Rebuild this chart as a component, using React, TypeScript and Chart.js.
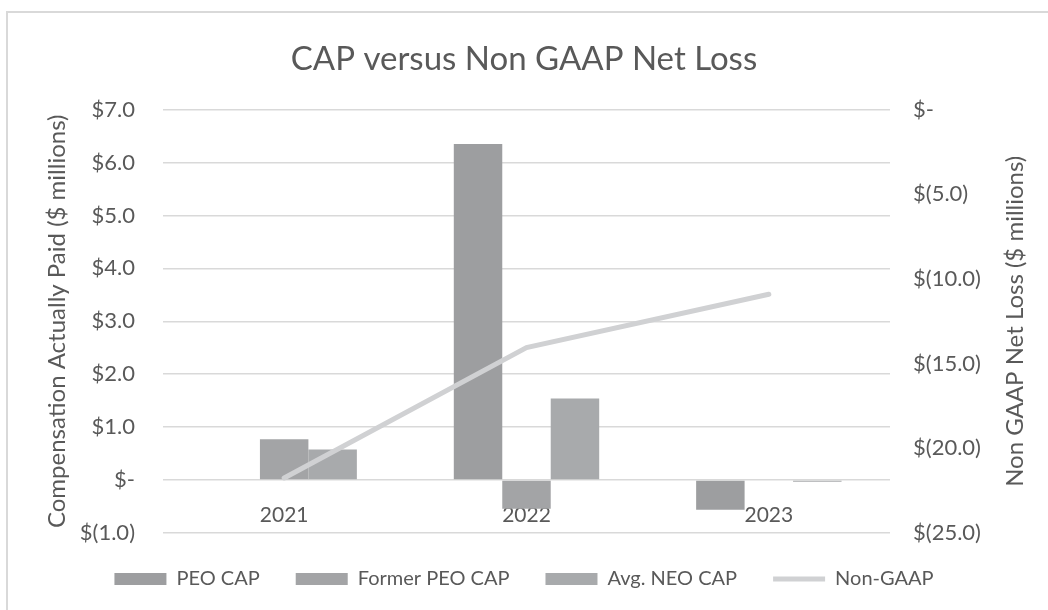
import React, { useEffect, useRef } from "react";
import { Chart, registerables } from "chart.js";

Chart.register(...registerables);

const categories = ["2021", "2022", "2023"];
const peoCap = [null, 6.35, -0.56];
const formerPeoCap = [0.77, -0.54, null];
const avgNeoCap = [0.58, 1.54, -0.03];
const nonGaapNetLoss = [-21.75, -14.05, -10.9];

const seriesNames = ["PEO CAP", "Former PEO CAP", "Avg. NEO CAP", "Non-GAAP"];
const chartTitle = "CAP versus Non GAAP Net Loss";
const leftAxisTitle = "Compensation Actually Paid ($ millions)";
const rightAxisTitle = "Non GAAP Net Loss ($ millions)";

const FONT = "Lato, 'Open Sans', sans-serif";
const TEXT = "#595959";

function fmtMoney(v: number): string {
  if (Math.abs(v) < 1e-9) return "$-";
  if (v < 0) return "$(" + Math.abs(v).toFixed(1) + ")";
  return "$" + v.toFixed(1);
}

const rightTitlePlugin = {
  id: "rightTitle",
  afterDraw(chart: any) {
    const { ctx, chartArea } = chart;
    ctx.save();
    ctx.fillStyle = TEXT;
    ctx.font = "24px " + FONT;
    ctx.textAlign = "center";
    ctx.textBaseline = "middle";
    ctx.translate(1015, (chartArea.top + chartArea.bottom) / 2);
    ctx.rotate(-Math.PI / 2);
    ctx.fillText(rightAxisTitle, 0, 0);
    ctx.restore();
  },
};

export default function App() {
  const ref = useRef<HTMLCanvasElement | null>(null);

  useEffect(() => {
    if (!ref.current) return;
    const chart = new Chart(ref.current, {
      data: {
        labels: categories,
        datasets: [
          {
            type: "bar",
            label: seriesNames[0],
            data: peoCap,
            backgroundColor: "#9d9ea0",
            borderWidth: 0,
            pointStyle: "rect",
            yAxisID: "y",
            order: 1,
          },
          {
            type: "bar",
            label: seriesNames[1],
            data: formerPeoCap,
            backgroundColor: "#a3a4a6",
            borderWidth: 0,
            pointStyle: "rect",
            yAxisID: "y",
            order: 1,
          },
          {
            type: "bar",
            label: seriesNames[2],
            data: avgNeoCap,
            backgroundColor: "#a8aaac",
            borderWidth: 0,
            pointStyle: "rect",
            yAxisID: "y",
            order: 1,
          },
          {
            type: "line",
            label: seriesNames[3],
            data: nonGaapNetLoss,
            borderColor: "#d0d1d3",
            backgroundColor: "#d0d1d3",
            borderWidth: 5,
            borderCapStyle: "round",
            pointRadius: 0,
            pointStyle: "line",
            yAxisID: "y2",
            order: 0,
          },
        ],
      } as any,
      options: {
        animation: false,
        responsive: false,
        maintainAspectRatio: false,
        layout: { padding: { left: 0, right: 0, top: 0, bottom: 11 } },
        datasets: {
          bar: { barPercentage: 1, categoryPercentage: 0.6 },
        } as any,
        plugins: {
          tooltip: { enabled: false },
          title: {
            display: true,
            text: chartTitle,
            color: TEXT,
            font: { family: FONT, size: 33, weight: "normal" },
            padding: { top: 40, bottom: 30 },
          },
          legend: {
            display: true,
            position: "bottom",
            labels: {
              color: TEXT,
              font: { family: FONT, size: 20 },
              usePointStyle: true,
              pointStyleWidth: 52,
              boxHeight: 12,
              padding: 36,
              sort: (a: any, b: any) => a.datasetIndex - b.datasetIndex,
            },
          },
        },
        scales: {
          x: {
            type: "category",
            position: { y: 0 } as any,
            z: 1,
            grid: { display: false, drawTicks: false },
            border: { display: false },
            ticks: {
              color: TEXT,
              font: { family: FONT, size: 21 },
              padding: 23,
              maxRotation: 0,
            },
          },
          y: {
            type: "linear",
            position: "left",
            min: -1,
            max: 7,
            afterFit: (s: any) => {
              s.width = 163;
            },
            ticks: {
              stepSize: 1,
              color: TEXT,
              font: { family: FONT, size: 22 },
              padding: 28,
              callback: (v: any) => fmtMoney(Number(v)),
            },
            grid: { color: "#d9d9d9", lineWidth: 1.5, drawTicks: false },
            border: { display: false },
            title: {
              display: true,
              text: leftAxisTitle,
              color: TEXT,
              font: { family: FONT, size: 24 },
              padding: { top: 43, bottom: 0 },
            },
          },
          y2: {
            type: "linear",
            position: "right",
            min: -25,
            max: 0,
            afterFit: (s: any) => {
              s.width = 158;
            },
            ticks: {
              stepSize: 5,
              color: TEXT,
              font: { family: FONT, size: 22 },
              padding: 23,
              callback: (v: any) => fmtMoney(Number(v)),
            },
            grid: { display: false, drawTicks: false },
            border: { display: false },
            title: { display: false },
          },
        },
      } as any,
      plugins: [rightTitlePlugin],
    });
    return () => chart.destroy();
  }, []);

  return (
    <div
      style={{
        position: "absolute",
        left: 0,
        top: 0,
        width: 1048,
        height: 610,
        overflow: "hidden",
        background: "#ffffff",
      }}
    >
      <div
        style={{
          position: "absolute",
          left: 6,
          top: 11,
          width: 1100,
          height: 700,
          border: "2px solid #d9d9d9",
          boxSizing: "border-box",
        }}
      />
      <canvas
        ref={ref}
        width={1048}
        height={610}
        style={{ position: "absolute", left: 0, top: 0, width: 1048, height: 610 }}
      />
    </div>
  );
}
